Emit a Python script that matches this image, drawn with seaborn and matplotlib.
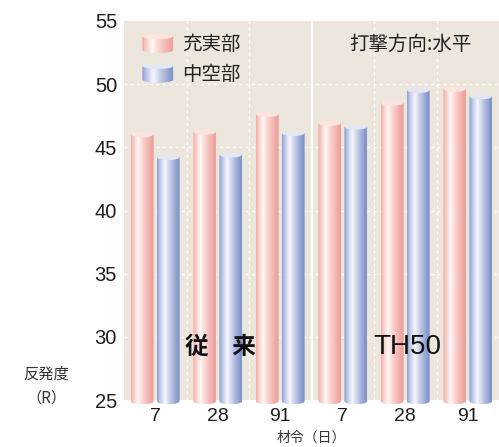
import numpy as np
import pandas as pd
import matplotlib
matplotlib.use("Agg")
import matplotlib.pyplot as plt
import seaborn as sns
from matplotlib.colors import LinearSegmentedColormap
from matplotlib.collections import PolyCollection
from matplotlib.patches import Ellipse, Rectangle, Polygon
from matplotlib.legend_handler import HandlerBase

# ---- data ----
groups = ["従　来", "TH50"]
ages = ["7", "28", "91"]
parts = ["充実部", "中空部"]
solid_conv = [46.0, 46.2, 47.6]
hollow_conv = [44.2, 44.4, 46.1]
solid_th50 = [46.9, 48.5, 49.6]
hollow_th50 = [46.6, 49.5, 49.0]
y_ticks = [25, 30, 35, 40, 45, 50, 55]

rows = []
for g, s_vals, h_vals in [(groups[0], solid_conv, hollow_conv),
                          (groups[1], solid_th50, hollow_th50)]:
    for a, s, h in zip(ages, s_vals, h_vals):
        key = f"{g}-{a}"
        rows.append({"key": key, "part": parts[0], "value": s})
        rows.append({"key": key, "part": parts[1], "value": h})
df = pd.DataFrame(rows)
order = list(dict.fromkeys(df["key"]))

# ---- style ----
sns.set_style("white")
plt.rcParams["font.family"] = ["Liberation Sans", "Noto Sans CJK JP"]
JP = ["Noto Sans CJK JP", "DejaVu Sans"]
BG = "#ece6dd"
TXT = "#1e1e1e"

red_cmap = LinearSegmentedColormap.from_list(
    "red_cyl", [(0, "#f3aba6"), (0.12, "#f8cbc7"), (0.32, "#fff9f8"),
                (0.55, "#fad2ce"), (1, "#ee9c97")])
blue_cmap = LinearSegmentedColormap.from_list(
    "blue_cyl", [(0, "#8d9fd4"), (0.12, "#b7c2e6"), (0.36, "#f8f9fd"),
                 (0.6, "#c3cbe8"), (1, "#7890c8")])
cap_colors = ["#fde5de", "#e3e6f3"]
cmaps = [red_cmap, blue_cmap]


def draw_cylinder(ax, x0, w, bottom, top, cmap, capc, ry, n=26):
    xs = np.linspace(x0, x0 + w, n + 1)
    cx, rx = x0 + w / 2, w / 2
    yb = bottom - ry * np.sqrt(np.clip(1 - ((xs - cx) / rx) ** 2, 0, 1))
    polys, cols = [], []
    for i in range(n):
        polys.append([(xs[i], top), (xs[i + 1], top),
                      (xs[i + 1], yb[i + 1]), (xs[i], yb[i])])
        cols.append(cmap((i + 0.5) / n))
    pc = PolyCollection(polys, facecolors=cols, edgecolors=cols,
                        linewidths=0.4, zorder=3, clip_on=False)
    ax.add_collection(pc)
    ax.add_patch(Ellipse((cx, top), w, 2 * ry, facecolor=capc,
                         edgecolor="none", zorder=4, clip_on=False))


class CylinderHandler(HandlerBase):
    def __init__(self, cmap, capc):
        super().__init__()
        self.cmap, self.capc = cmap, capc

    def create_artists(self, legend, orig_handle, xdescent, ydescent,
                       width, height, fontsize, trans):
        x0, y0 = -xdescent, -ydescent
        ry = height * 0.14
        top = y0 + height - ry
        bottom = y0 + ry
        n = 20
        xs = np.linspace(x0, x0 + width, n + 1)
        cx, rx = x0 + width / 2, width / 2
        yb = bottom - ry * np.sqrt(np.clip(1 - ((xs - cx) / rx) ** 2, 0, 1))
        arts = []
        for i in range(n):
            c = self.cmap((i + 0.5) / n)
            p = Polygon([(xs[i], top), (xs[i + 1], top),
                         (xs[i + 1], yb[i + 1]), (xs[i], yb[i])],
                        closed=True, facecolor=c, edgecolor=c, lw=0.4,
                        transform=trans)
            arts.append(p)
        arts.append(Ellipse((cx, top), width, 2 * ry, facecolor=self.capc,
                            edgecolor="none", transform=trans))
        return arts


# ---- figure ----
fig = plt.figure(figsize=(4.99, 4.47), dpi=100)
ax = fig.add_axes([124 / 499, 47 / 447, 375 / 499, 379 / 447])
ax.set_facecolor(BG)

sns.barplot(data=df, x="key", y="value", hue="part", order=order,
            hue_order=parts, palette=["#f3aba6", "#8d9fd4"],
            width=0.832, gap=0.154, legend=False, errorbar=None, ax=ax)

ymin, ymax = y_ticks[0], y_ticks[-1]
for hi, cont in enumerate(ax.containers):
    for bar in cont:
        x0, w, top = bar.get_x(), bar.get_width(), bar.get_height()
        bar.set_visible(False)
        draw_cylinder(ax, x0, w, ymin - 0.1, top, cmaps[hi], cap_colors[hi], 0.2)

ax.set_ylim(ymin, ymax)
ax.set_xlim(-0.5, len(order) - 0.5)
ax.set_yticks(y_ticks)
ax.set_yticklabels([str(t) for t in y_ticks])
ax.set_xticks(range(len(order)))
ax.set_xticklabels(ages * 2)
ax.tick_params(axis="both", length=0, colors=TXT)
ax.tick_params(axis="y", labelsize=14.5, pad=5)
ax.tick_params(axis="x", labelsize=14, pad=6)
for s in ax.spines.values():
    s.set_visible(False)

# grid
dash = (0, (2, 2.6))
for y in y_ticks[1:-1]:
    ax.axhline(y, color="white", lw=1.0, ls=dash, zorder=1)
for x in [0.5, 1.5, 3.5, 4.5]:
    ax.axvline(x, color="white", lw=1.0, ls=dash, zorder=1)
ax.axvline(2.5, color="white", lw=1.6, zorder=1)

# labels
ax.set_xlabel("材令（日）", family=JP, fontsize=10, color="#333333", va="center")
ax.xaxis.set_label_coords(0.5, -0.1)
ax.set_ylabel("反発度\n（R）", family=JP, fontsize=11, color="#333333",
              rotation=0, ha="center", va="center", multialignment="center",
              linespacing=1.5)
ax.yaxis.set_label_coords(-0.208, 0.037)

ax.text(1.05, 29.2, groups[0], family=JP, fontsize=17, fontweight="bold",
        ha="center", va="center", color="#111111", zorder=5)
ax.text(4.04, 29.2, groups[1], fontsize=20, ha="center", va="center",
        color="#111111", zorder=5)
ax.text(0.765, 0.939, "打撃方向:水平", family=JP, fontsize=14,
        transform=ax.transAxes, ha="center", va="center", color="#222222")

# legend
h_solid, h_hollow = Rectangle((0, 0), 1, 1), Rectangle((0, 0), 1, 1)
leg = ax.legend([h_solid, h_hollow], parts,
                handler_map={h_solid: CylinderHandler(red_cmap, cap_colors[0]),
                             h_hollow: CylinderHandler(blue_cmap, cap_colors[1])},
                loc="upper left", bbox_to_anchor=(0.05, 0.966),
                frameon=False, borderpad=0, borderaxespad=0,
                handlelength=1.55, handleheight=1.1, handletextpad=0.45,
                labelspacing=0.45, prop={"family": JP, "size": 14})
for t in leg.get_texts():
    t.set_color("#222222")

fig.savefig("out.png", dpi=100, facecolor="white")
